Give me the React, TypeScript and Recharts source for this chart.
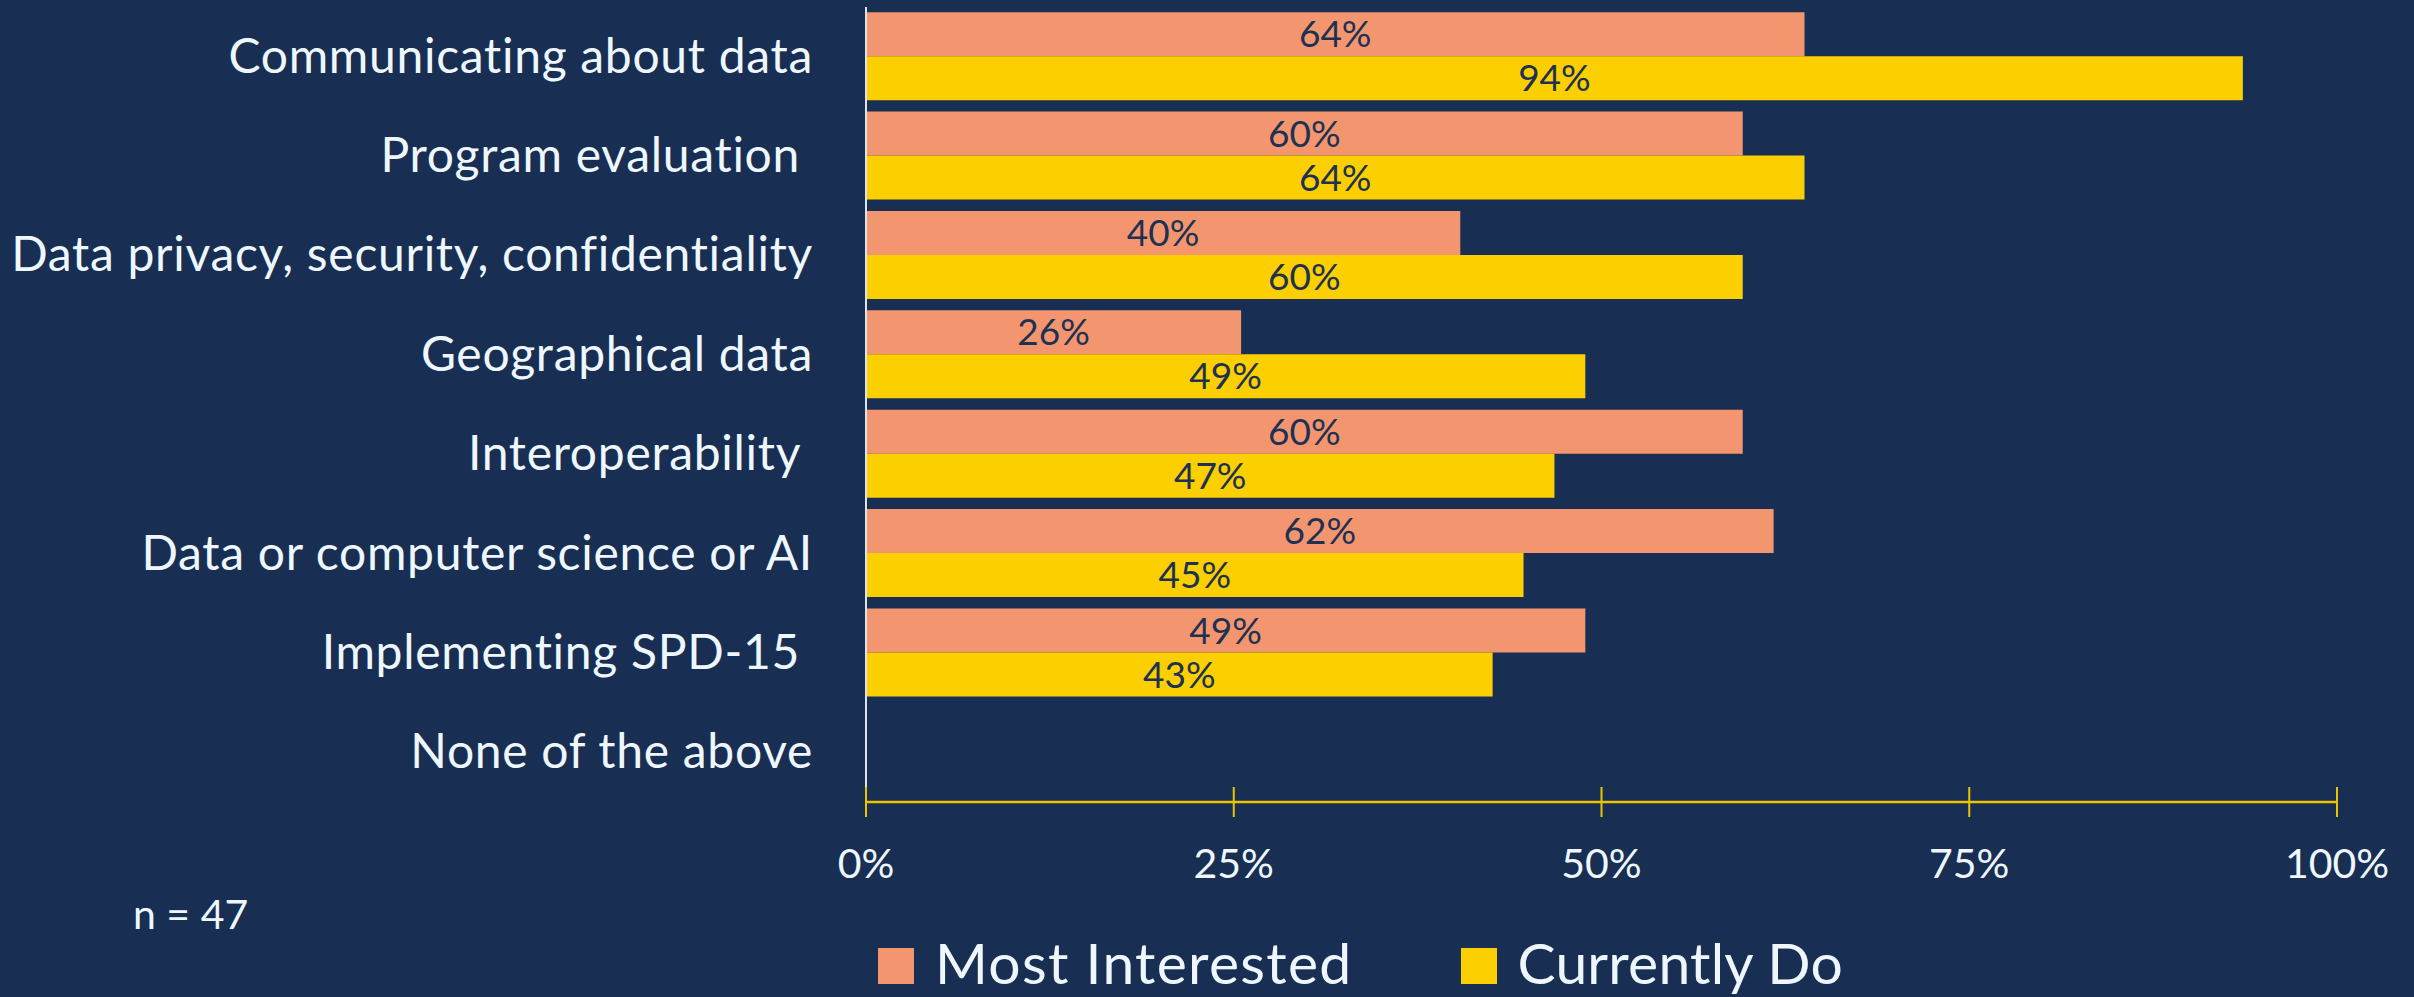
import React from 'react';
import { BarChart, Bar, XAxis, YAxis, LabelList, Legend } from 'recharts';

const categories = [
  'Communicating about data',
  'Program evaluation ',
  'Data privacy, security, confidentiality',
  'Geographical data',
  'Interoperability ',
  'Data or computer science or AI',
  'Implementing SPD-15 ',
  'None of the above',
];
const mostInterested = [63.8, 59.6, 40.4, 25.5, 59.6, 61.7, 48.9, 0];
const currentlyDo = [93.6, 63.8, 59.6, 48.9, 46.8, 44.7, 42.6, 0];
const xTicks = [0, 25, 50, 75, 100];
const seriesNames = ['Most Interested', 'Currently Do'];
const sampleNote = 'n = 47';

const data = categories.map((name, i) => ({
  name,
  most: mostInterested[i],
  current: currentlyDo[i],
}));

const BG = '#182E52';
const ORANGE = '#F3966F';
const YELLOW = '#FBCF00';
const AXIS_YELLOW = '#EBC300';
const TEXT = '#EEF7FD';
const LABEL = '#1E3152';
const FONT = 'Lato, "Open Sans", sans-serif';

const XTick = (props: any) => {
  const { x, y, payload } = props;
  return (
    <g>
      <line x1={x} x2={x} y1={y - 15} y2={y + 15} stroke={AXIS_YELLOW} strokeWidth={2} />
      <text x={x} y={y + 76} textAnchor="middle" fill={TEXT} fontSize={41} fontFamily={FONT}>
        {payload.value}%
      </text>
    </g>
  );
};

const YTick = (props: any) => {
  const { x, y, payload } = props;
  return (
    <text
      x={x}
      y={y}
      dy={16}
      textAnchor="end"
      fill={TEXT}
      fontSize={48}
      letterSpacing={0.7}
      fontFamily={FONT}
      style={{ whiteSpace: 'pre' }}
    >
      {payload.value}
    </text>
  );
};

const legendColors = [ORANGE, YELLOW];

const LegendContent = () => (
  <div style={{ display: 'flex', alignItems: 'center', fontFamily: FONT, color: TEXT, fontSize: 57, lineHeight: '57px', whiteSpace: 'nowrap' }}>
    {seriesNames.map((n, i) => (
      <div key={n} style={{ display: 'flex', alignItems: 'center', marginRight: i === 0 ? 108 : 0 }}>
        <div style={{ width: 36, height: 36, background: legendColors[i], marginRight: 21, marginTop: 6 }} />
        <span style={{ letterSpacing: i === 0 ? 1.3 : 0.2 }}>{n}</span>
      </div>
    ))}
  </div>
);

const fmt = (v: any) => (v ? `${Math.round(Number(v))}%` : '');

export default function App() {
  return (
    <div style={{ position: 'absolute', left: 0, top: 0, width: 2414, height: 997, background: BG, overflow: 'hidden' }}>
      <BarChart
        width={2414}
        height={997}
        data={data}
        layout="vertical"
        margin={{ top: 7, right: 77, bottom: 0, left: 0 }}
        barCategoryGap="5.25%"
        barGap={0}
      >
        <XAxis
          type="number"
          domain={[0, 100]}
          ticks={xTicks}
          interval={0}
          height={195}
          axisLine={{ stroke: AXIS_YELLOW, strokeWidth: 2.6 }}
          tickLine={false}
          tickSize={0}
          tickMargin={0}
          tick={<XTick />}
        />
        <YAxis
          type="category"
          dataKey="name"
          width={866}
          interval={0}
          axisLine={{ stroke: '#DCE3EA', strokeWidth: 2 }}
          tickLine={false}
          tickSize={0}
          tickMargin={53}
          tick={<YTick />}
        />
        <Legend
          layout="horizontal"
          verticalAlign="middle"
          align="center"
          content={<LegendContent />}
          wrapperStyle={{ position: 'absolute', left: 878, top: 934, width: 'auto' }}
        />
        <Bar dataKey="most" name={seriesNames[0]} fill={ORANGE} isAnimationActive={false}>
          <LabelList dataKey="most" position="center" formatter={fmt} fill={LABEL} fontSize={37} fontFamily={FONT} />
        </Bar>
        <Bar dataKey="current" name={seriesNames[1]} fill={YELLOW} isAnimationActive={false}>
          <LabelList dataKey="current" position="center" formatter={fmt} fill={LABEL} fontSize={37} fontFamily={FONT} />
        </Bar>
      </BarChart>
      <div style={{ position: 'absolute', left: 133, top: 889, fontFamily: FONT, fontSize: 41, color: TEXT, whiteSpace: 'pre' }}>
        {sampleNote}
      </div>
    </div>
  );
}
